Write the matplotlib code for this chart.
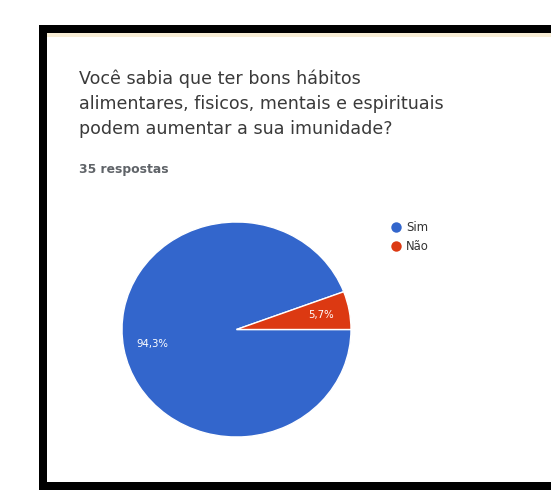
import matplotlib
matplotlib.use("Agg")
import matplotlib.pyplot as plt
from matplotlib.patches import Rectangle
from matplotlib.lines import Line2D

# survey answers (35 respostas)
labels = ["Sim", "Não"]
counts = [33, 2]
colors = ["#3366CC", "#DC3912"]
title_lines = ["Você sabia que ter bons hábitos",
               "alimentares, fisicos, mentais e espirituais",
               "podem aumentar a sua imunidade?"]
subtitle = "35 respostas"

W, H = 551, 492
fig = plt.figure(figsize=(W / 100, H / 100), dpi=100)
fig.patch.set_facecolor("white")

def px(x, y, w, h):
    # pixel box (top-left origin) -> figure fraction
    return (x / W, 1 - (y + h) / H, w / W, h / H)

# black screenshot frame, open on the right
x0, y0, w0, h0 = px(39, 25, 600, 465)
fig.patches.append(Rectangle((x0, y0), w0, h0, transform=fig.transFigure,
                             facecolor="black", edgecolor="none", zorder=0))
x1, y1, w1, h1 = px(47, 33, 600, 449)
fig.patches.append(Rectangle((x1, y1), w1, h1, transform=fig.transFigure,
                             facecolor="white", edgecolor="none", zorder=1))
x2, y2, w2, h2 = px(47, 33, 600, 4)
fig.patches.append(Rectangle((x2, y2), w2, h2, transform=fig.transFigure,
                             facecolor="#f8eed6", edgecolor="none", zorder=2))

# title and subtitle
for i, line in enumerate(title_lines):
    fig.text(79 / W, 1 - (79 + i * 25) / H, line, fontsize=12.6,
             family="DejaVu Sans", color="#3a3a3a", va="center", ha="left",
             zorder=5)
fig.text(79 / W, 1 - 169 / H, subtitle, fontsize=8.9, family="DejaVu Sans",
         fontweight="bold", color="#5f6368", va="center", ha="left", zorder=5)

# pie (screenshot is slightly stretched horizontally)
ax = fig.add_axes(px(122, 222, 229, 215))
ax.set_zorder(5)
wedges, _, autotexts = ax.pie(
    counts, colors=colors, startangle=0, counterclock=False,
    autopct=lambda p: f"{p:.1f}%".replace(".", ","), pctdistance=0.75,
    wedgeprops=dict(edgecolor="white", linewidth=1),
    textprops=dict(color="white", fontsize=7.3, family="DejaVu Sans"))
ax.set_aspect("auto")
ax.set_xlim(-1, 1)
ax.set_ylim(-1, 1)

handles = [Line2D([], [], marker="o", linestyle="none", markersize=7.5,
                  markerfacecolor=w.get_facecolor(), markeredgecolor="none")
           for w in wedges]
leg = fig.legend(handles, labels, loc="upper left",
                 bbox_to_anchor=(391 / W, 1 - 221 / H), frameon=False,
                 prop=dict(family="DejaVu Sans", size=8.4),
                 handlelength=0.8, handletextpad=0.5, labelspacing=0.5,
                 borderpad=0, borderaxespad=0, labelcolor="#333333")
leg.set_zorder(6)

fig.savefig("out.png", dpi=100)
